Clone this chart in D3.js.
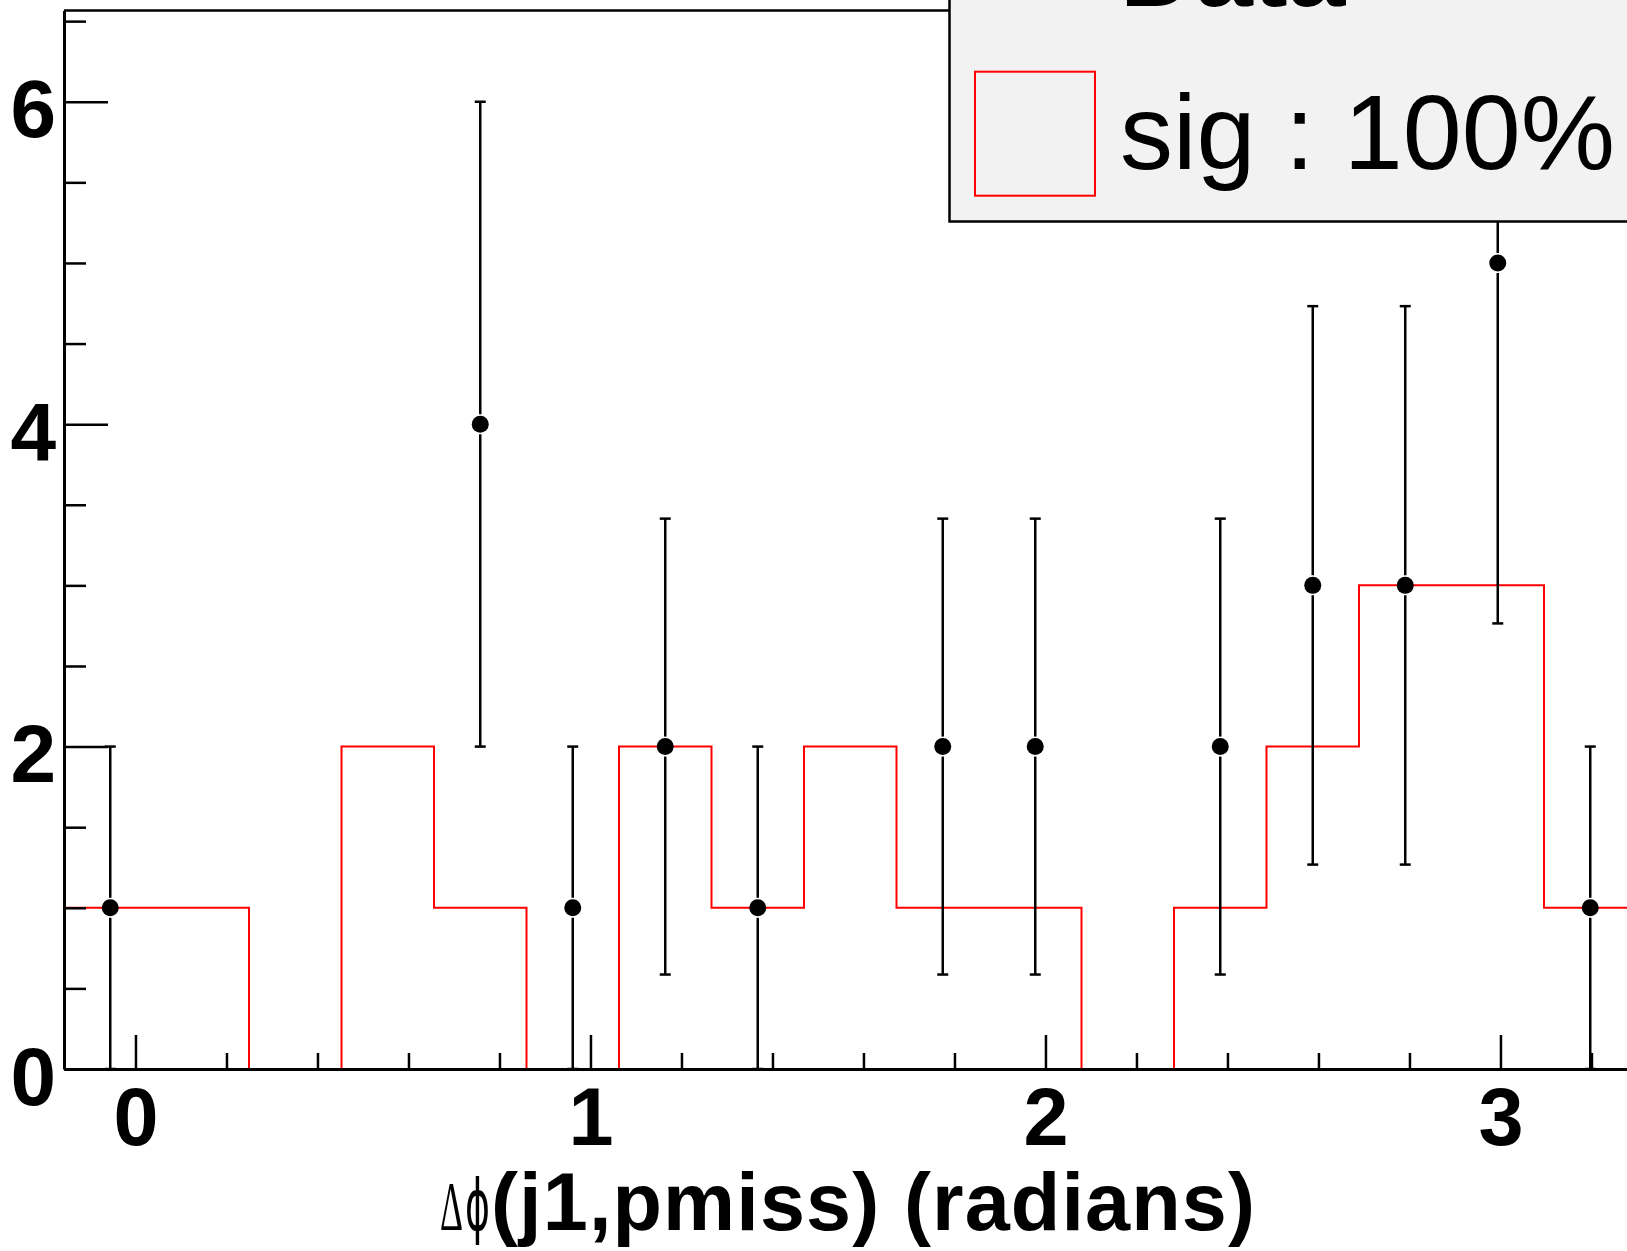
<!DOCTYPE html>
<html>
<head>
<meta charset="utf-8">
<script src="https://cdn.jsdelivr.net/npm/d3@7"></script>
<style>
  html, body { margin: 0; padding: 0; background: #ffffff; }
  svg { display: block; }
</style>
</head>
<body>
<svg id="chart" width="1627" height="1251"></svg>
<script>
// ---------------- data ----------------
const binEdges = [-0.1571, 0.0462, 0.2495, 0.4528, 0.6561, 0.8594, 1.0627, 1.2660, 1.4693,
                  1.6726, 1.8759, 2.0792, 2.2825, 2.4858, 2.6891, 2.8924, 3.0957, 3.2990];
const dataCounts = [1, 0, 0, 0, 4, 1, 2, 1, 0, 2, 2, 0, 2, 3, 3, 5, 1];
const dataErrors = [1, 0, 0, 0, 2, 1, 1.414, 1, 0, 1.414, 1.414, 0, 1.414, 1.732, 1.732, 2.236, 1];
const sigCounts  = [1, 1, 0, 2, 1, 0, 2, 1, 2, 1, 1, 0, 1, 2, 3, 3, 1];
const xMajorTicks = [0, 1, 2, 3];
const xMinorTicks = [0.2, 0.4, 0.6, 0.8, 1.2, 1.4, 1.6, 1.8, 2.2, 2.4, 2.6, 2.8, 3.2];
const yMajorTicks = [0, 2, 4, 6];
const yMinorTicks = [0.5, 1, 1.5, 2.5, 3, 3.5, 4.5, 5, 5.5, 6.5];
const yMax = 6.566;
const xTitleDelta = "\u0394";
const xTitlePhi = "\u03D5";
const xTitleRest = "(j1,pmiss) (radians)";
const legendLabels = ["Data", "sig : 100%"];

// ---------------- layout ----------------
const svg = d3.select("#chart");
const pL = 64, pR = 1636.5, pT = 10.5, pB = 1069;
const x = d3.scaleLinear().domain([binEdges[0], binEdges[binEdges.length - 1]]).range([pL, pR]);
const y = d3.scaleLinear().domain([0, yMax]).range([pB, pT]);
const font = "'Liberation Sans', Arial, Helvetica, sans-serif";

svg.append("defs").append("clipPath").attr("id", "plotclip")
  .append("rect").attr("x", pL).attr("y", pT - 2).attr("width", pR - pL).attr("height", pB - pT + 2);

// signal histogram (step) - drawn first so the frame covers its outer edges
const plot = svg.append("g").attr("clip-path", "url(#plotclip)");
const stepPts = sigCounts.map((v, i) => [binEdges[i], v]);
stepPts.push([binEdges[binEdges.length - 1], sigCounts[sigCounts.length - 1]]);
plot.append("path")
  .attr("d", d3.line().x(d => x(d[0])).y(d => y(d[1])).curve(d3.curveStepAfter)(stepPts))
  .attr("fill", "none").attr("stroke", "#ff0000").attr("stroke-width", 2);

// frame top line
svg.append("line").attr("x1", pL).attr("x2", pR).attr("y1", pT).attr("y2", pT)
  .attr("stroke", "#000").attr("stroke-width", 2.5);

// x axis (major)
const gx = svg.append("g").attr("transform", `translate(0,${pB})`)
  .call(d3.axisBottom(x).tickValues(xMajorTicks).tickSizeInner(-34).tickSizeOuter(0).tickFormat(d3.format("d")));
gx.select(".domain").attr("stroke-width", 3);
gx.selectAll(".tick line").attr("stroke-width", 2.5);
gx.selectAll(".tick text").attr("y", 76).attr("dy", 0)
  .style("font-family", font).style("font-weight", "bold").style("font-size", "81px").attr("fill", "#000");
// x axis (minor)
const gxm = svg.append("g").attr("transform", `translate(0,${pB})`)
  .call(d3.axisBottom(x).tickValues(xMinorTicks).tickSizeInner(-16).tickSizeOuter(0).tickFormat(""));
gxm.select(".domain").remove();
gxm.selectAll(".tick line").attr("stroke-width", 2.5);

// y axis (major)
const gy = svg.append("g").attr("transform", `translate(${pL},0)`)
  .call(d3.axisLeft(y).tickValues(yMajorTicks).tickSizeInner(-44).tickSizeOuter(0).tickPadding(8).tickFormat(d3.format("d")));
gy.select(".domain").attr("stroke-width", 3);
gy.selectAll(".tick line").attr("stroke-width", 2.5);
gy.selectAll(".tick text").attr("dy", 0).attr("y", 35)
  .style("font-family", font).style("font-weight", "bold").style("font-size", "82px").attr("fill", "#000");
// y axis (minor)
const gym = svg.append("g").attr("transform", `translate(${pL},0)`)
  .call(d3.axisLeft(y).tickValues(yMinorTicks).tickSizeInner(-22).tickSizeOuter(0).tickFormat(""));
gym.select(".domain").remove();
gym.selectAll(".tick line").attr("stroke-width", 2.5);

// x title (one text element with three pieces)
const title = svg.append("text").attr("y", 1230).attr("fill", "#000");
title.append("tspan").attr("x", 440).attr("textLength", 23).attr("lengthAdjust", "spacingAndGlyphs")
  .style("font-family", "'Liberation Serif', 'DejaVu Serif', serif").style("font-size", "70px")
  .text(xTitleDelta);
title.append("tspan").attr("x", 465).attr("textLength", 25).attr("lengthAdjust", "spacingAndGlyphs")
  .style("font-family", "'DejaVu Sans', 'Liberation Sans', sans-serif").style("font-size", "72px")
  .text(xTitlePhi);
title.append("tspan").attr("x", 491).attr("textLength", 764).attr("lengthAdjust", "spacing")
  .style("font-family", font).style("font-weight", "bold").style("font-size", "81px")
  .text(xTitleRest);

// data points with error bars
const r = 8.5, gap = 1.5, cap = 5.5;
const pts = dataCounts.map((v, i) => ({ c: (binEdges[i] + binEdges[i + 1]) / 2, v, e: dataErrors[i] }))
  .filter(d => d.v > 0);
const dg = plot.append("g").attr("stroke", "#000").attr("stroke-width", 2.5);
pts.forEach(d => {
  const cx = x(d.c), cy = y(d.v), yHi = y(d.v + d.e), yLo = y(d.v - d.e);
  dg.append("line").attr("x1", cx).attr("x2", cx).attr("y1", yHi).attr("y2", cy - r - gap);
  dg.append("line").attr("x1", cx).attr("x2", cx).attr("y1", cy + r + gap).attr("y2", yLo);
  dg.append("line").attr("x1", cx - cap).attr("x2", cx + cap).attr("y1", yHi).attr("y2", yHi);
  dg.append("line").attr("x1", cx - cap).attr("x2", cx + cap).attr("y1", yLo).attr("y2", yLo);
});
plot.append("g").selectAll("circle").data(pts).join("circle")
  .attr("cx", d => x(d.c)).attr("cy", d => y(d.v)).attr("r", r).attr("fill", "#000");

// legend
const lg = svg.append("g");
lg.append("rect").attr("x", 949.5).attr("y", -300).attr("width", 900).attr("height", 521.5)
  .attr("fill", "#f2f2f2").attr("stroke", "#000").attr("stroke-width", 2.5);
lg.append("text").attr("x", 1120).attr("y", 6)
  .style("font-family", font).style("font-weight", "bold").style("font-size", "104px")
  .text(legendLabels[0]);
lg.append("rect").attr("x", 975).attr("y", 71.7).attr("width", 120).attr("height", 124)
  .attr("fill", "none").attr("stroke", "#ff0000").attr("stroke-width", 2);
lg.append("text").attr("x", 1120).attr("y", 169)
  .style("font-family", font).style("font-size", "106px")
  .text(legendLabels[1]);
</script>
</body>
</html>
